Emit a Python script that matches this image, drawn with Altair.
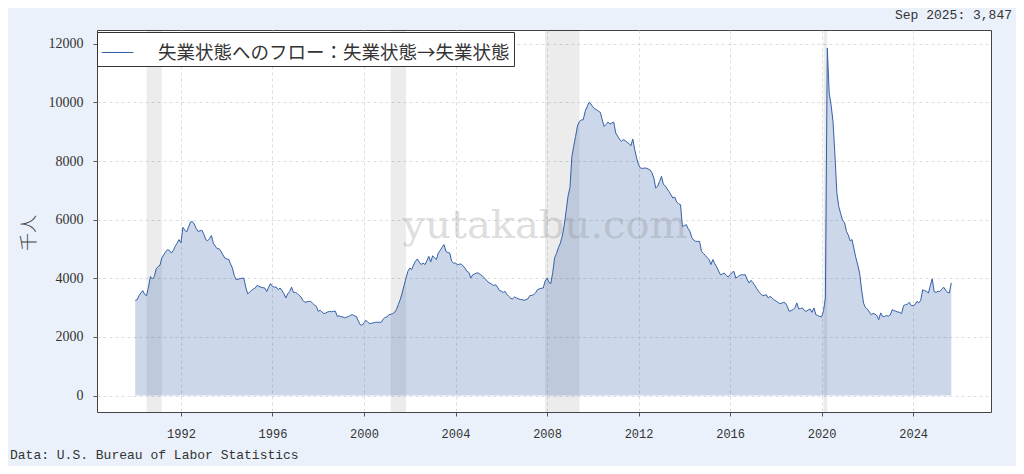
import altair as alt
import pandas as pd

# Monthly values (thousands), Jan 1990 - Sep 2025
y1990 = [3250, 3270, 3400, 3500, 3580, 3450, 3410, 3700, 4060, 3980, 4050, 4320]
y1991 = [4400, 4450, 4690, 4800, 4900, 4980, 4950, 4860, 4950, 5090, 5200, 5320]
y1992 = [5210, 5740, 5650, 5580, 5750, 5920, 5940, 5850, 5700, 5600, 5620, 5640]
y1993 = [5500, 5320, 5280, 5350, 5460, 5200, 5100, 5010, 5010, 4920, 4800, 4690]
y1994 = [4660, 4650, 4500, 4350, 4100, 3950, 3970, 3990, 4000, 4010, 3700, 3470]
y1995 = [3520, 3590, 3630, 3670, 3760, 3720, 3700, 3680, 3670, 3550, 3700, 3820]
y1996 = [3720, 3700, 3700, 3610, 3670, 3580, 3480, 3330, 3470, 3550, 3700, 3520]
y1997 = [3520, 3480, 3420, 3360, 3250, 3180, 3200, 3210, 3215, 3150, 3090, 3045]
y1998 = [2875, 2910, 2850, 2795, 2820, 2850, 2875, 2860, 2875, 2880, 2700, 2720]
y1999 = [2690, 2680, 2650, 2680, 2700, 2740, 2760, 2720, 2700, 2550, 2420, 2400]
y2000 = [2480, 2570, 2500, 2455, 2470, 2480, 2500, 2500, 2500, 2500, 2600, 2670]
y2001 = [2680, 2760, 2770, 2795, 2830, 2930, 3100, 3270, 3500, 3750, 4000, 4240]
y2002 = [4350, 4300, 4450, 4580, 4660, 4550, 4470, 4520, 4470, 4600, 4750, 4560]
y2003 = [4770, 4700, 4640, 4860, 4950, 5060, 5150, 4920, 4880, 4860, 4580, 4520]
y2004 = [4520, 4470, 4480, 4490, 4420, 4350, 4240, 4200, 4010, 4120, 4150, 4180]
y2005 = [4180, 4130, 4090, 4020, 3950, 3880, 3840, 3800, 3750, 3785, 3700, 3590]
y2006 = [3560, 3520, 3555, 3450, 3385, 3320, 3300, 3365, 3330, 3300, 3280, 3270]
y2007 = [3250, 3280, 3300, 3410, 3420, 3440, 3500, 3615, 3640, 3660, 3670, 3900]
y2008 = [4010, 3860, 3820, 4200, 4700, 4850, 5050, 5200, 5450, 5800, 6300, 6800]
y2009 = [7100, 8160, 8500, 8840, 9200, 9350, 9400, 9410, 9700, 9850, 10000, 9950]
y2010 = [9850, 9780, 9750, 9700, 9660, 9400, 9180, 9250, 9330, 9260, 9300, 9330]
y2011 = [8960, 8850, 8750, 8670, 8730, 8700, 8640, 8600, 8520, 8750, 8390, 8100]
y2012 = [7870, 7760, 7750, 7760, 7760, 7730, 7700, 7600, 7420, 7080, 7140, 7300]
y2013 = [7480, 7200, 7160, 7050, 6960, 6850, 6740, 6770, 6600, 6545, 6510, 5770]
y2014 = [5800, 5830, 5700, 5600, 5380, 5300, 5260, 5260, 5260, 4920, 4850, 4785]
y2015 = [4700, 4640, 4470, 4640, 4500, 4390, 4250, 4120, 4150, 4180, 4100, 4045]
y2016 = [4120, 4200, 4240, 4010, 4050, 4100, 4120, 4120, 4120, 3950, 3840, 3930]
y2017 = [3850, 3750, 3650, 3555, 3480, 3410, 3420, 3440, 3330, 3385, 3330, 3270]
y2018 = [3230, 3180, 3140, 3150, 3180, 3160, 3050, 2875, 2900, 2930, 3000, 3160]
y2019 = [2955, 2970, 2990, 2900, 2875, 2920, 2955, 2840, 2990, 2760, 2730, 2700]
y2020 = [2680, 2900, 3330, 11850, 10320, 9900, 9350, 8200, 6900, 6450, 6200, 5980]
y2021 = [5900, 5600, 5480, 5280, 5320, 5000, 4700, 4450, 4150, 3600, 3150, 3000]
y2022 = [2950, 2850, 2760, 2800, 2780, 2730, 2590, 2820, 2700, 2700, 2730, 2710]
y2023 = [2750, 2930, 2900, 2875, 2850, 2840, 2795, 3070, 3100, 3120, 3180, 3070]
y2024 = [3070, 3100, 3215, 3160, 3250, 3610, 3580, 3555, 3500, 3750, 3980, 3550]
y2025 = [3520, 3555, 3555, 3620, 3700, 3600, 3520, 3500, 3847]

series_name = "失業状態へのフロー：失業状態→失業状態"

rec_start = ["1990-07-01", "2001-03-01", "2007-12-01", "2020-02-01"]
rec_end = ["1991-03-01", "2001-11-01", "2009-06-01", "2020-04-01"]

y_ticks = [0, 2000, 4000, 6000, 8000, 10000, 12000]
x_tick_years = [1992, 1996, 2000, 2004, 2008, 2012, 2016, 2020, 2024]

values = (y1990 + y1991 + y1992 + y1993 + y1994 + y1995 + y1996 + y1997 + y1998 +
          y1999 + y2000 + y2001 + y2002 + y2003 + y2004 + y2005 + y2006 + y2007 +
          y2008 + y2009 + y2010 + y2011 + y2012 + y2013 + y2014 + y2015 + y2016 +
          y2017 + y2018 + y2019 + y2020 + y2021 + y2022 + y2023 + y2024 + y2025)
dates = pd.date_range("1990-01-01", periods=len(values), freq="MS")
df = pd.DataFrame({
    "date": dates.strftime("%Y-%m-%d"),
    "value": values,
    "series": series_name,
})
rec = pd.DataFrame({"start": rec_start, "end": rec_end})

last_label = f"{dates[-1].strftime('%b %Y')}: {values[-1]:,}"

LINE = "#3560a6"
TXT = "#333333"

x_scale = alt.Scale(domain=["1988-05-01", "2027-05-28"])
y_scale = alt.Scale(domain=[-560, 12470], nice=False, zero=False)

x_axis = alt.Axis(
    values=[alt.DateTime(year=y, month=1, date=1) for y in x_tick_years],
    format="%Y", title=None, grid=True, gridDash=[3, 3], gridColor="#d4d4d4",
    gridWidth=0.8, domain=False, ticks=True, tickSize=4, tickColor="#555",
    labelFont="Liberation Mono", labelFontSize=12, labelColor=TXT,
    labelPadding=12, labelFlush=False,
)
y_axis = alt.Axis(
    values=y_ticks, format="d", title=None, grid=True, gridDash=[3, 3],
    gridColor="#d4d4d4", gridWidth=0.8, domain=False, ticks=True, tickSize=4,
    tickColor="#555", labelFont="Liberation Serif", labelFontSize=14,
    labelColor=TXT, labelPadding=10,
)

bands = alt.Chart(rec).mark_rect(color="#000000", opacity=0.075).encode(
    x=alt.X("start:T", scale=x_scale, axis=x_axis),
    x2="end:T",
)

area = alt.Chart(df).mark_area(color=LINE, opacity=0.25).encode(
    x=alt.X("date:T", scale=x_scale, axis=x_axis),
    y=alt.Y("value:Q", scale=y_scale, axis=y_axis),
    y2=alt.datum(0),
)

line = alt.Chart(df).mark_line(strokeWidth=1.0).encode(
    x=alt.X("date:T", scale=x_scale, axis=x_axis),
    y=alt.Y("value:Q", scale=y_scale, axis=y_axis),
    color=alt.Color(
        "series:N",
        scale=alt.Scale(domain=[series_name], range=[LINE]),
        legend=alt.Legend(
            title=None, orient="none", legendX=0, legendY=2,
            fillColor="white", strokeColor="#333333", padding=4,
            symbolType="stroke", symbolSize=1000, symbolStrokeWidth=1.1,
            labelFont="Noto Sans CJK JP", labelFontSize=18.5,
            labelColor=TXT, labelOffset=24, labelLimit=700, cornerRadius=0,
        ),
    ),
)

watermark = alt.Chart(pd.DataFrame({"t": ["yutakabu.com"]})).mark_text(
    font="DejaVu Serif", fontSize=40, color="#8a8a8a", opacity=0.28,
    align="center", baseline="middle",
).encode(x=alt.value(448), y=alt.value(196), text="t:N")

latest = alt.Chart(pd.DataFrame({"t": [last_label]})).mark_text(
    font="Liberation Mono", fontSize=13, color=TXT, align="right",
    baseline="middle",
).encode(x=alt.value(915), y=alt.value(-15), text="t:N")

credit = alt.Chart(pd.DataFrame({"t": ["Data: U.S. Bureau of Labor Statistics"]})).mark_text(
    font="Liberation Mono", fontSize=13, color=TXT, align="left",
    baseline="middle",
).encode(x=alt.value(-87), y=alt.value(425), text="t:N")

ytitle = alt.Chart(pd.DataFrame({"t": ["千人"]})).mark_text(
    font="Noto Sans CJK JP", fontSize=18, color="#444444", align="center",
    baseline="middle", angle=270, fontWeight=300,
).encode(x=alt.value(-67), y=alt.value(203), text="t:N")

chart = alt.layer(bands, area, line, watermark, latest, credit, ytitle).properties(
    width=894, height=382,
    autosize=alt.AutoSizeParams(type="none"),
    padding={"left": 89, "top": 22, "right": 25, "bottom": 54},
    background="#eaf1fa",
).configure_view(
    stroke="#444444", strokeWidth=1, fill="white",
)

chart.save("out.html", embed_options={"renderer": "svg", "actions": False})
